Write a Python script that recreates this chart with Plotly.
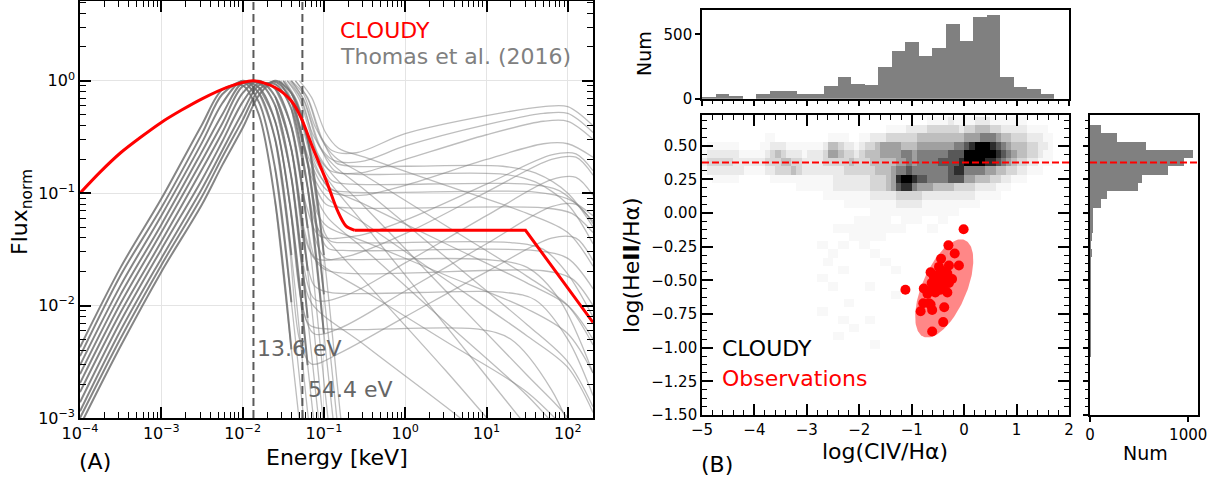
import numpy as np
import plotly.graph_objects as go

W, H = 1217, 482


def px(x):
    return x / W


def py(y):
    return 1 - y / H


# ---------------- Panel A: normalised SEDs (log10 E [keV], log10 flux) ----------------
cloudy_logE = [-4.0, -3.75, -3.5, -3.25, -3.0, -2.75, -2.5, -2.2, -1.87, -1.6, -1.4, -1.28, -1.14,
               -0.97, -0.83, -0.73, -0.62, 1.48, 2.31]
cloudy_logF = [-1.0, -0.81, -0.64, -0.50, -0.37, -0.26, -0.16, -0.06, 0.0, -0.06, -0.18, -0.33, -0.59,
               -0.89, -1.16, -1.29, -1.33, -1.33, -2.15]
cloudy_smooth_end = 16  # last index of the curved part; plateau + power law follow

# disc components of the Thomas et al. (2016) models
disk_logE = [-4.0, -3.5, -3.0, -2.5, -2.25, -2.0, -1.8, -1.6, -1.4, -1.2, -1.0, -0.8, -0.6]
disk_logF = [
    [-2.37, -1.66, -1.05, -0.39, -0.08, -0.04, -0.30, -1.07, -2.39, -3.70, None, None, None],
    [-2.45, -1.73, -1.13, -0.47, -0.12, -0.01, -0.19, -0.78, -1.97, -3.35, None, None, None],
    [-2.53, -1.82, -1.20, -0.55, -0.20, 0.00, -0.11, -0.52, -1.55, -2.95, -4.20, None, None],
    [-2.61, -1.90, -1.28, -0.63, -0.30, -0.02, -0.06, -0.36, -1.19, -2.53, -3.85, None, None],
    [-2.69, -1.98, -1.35, -0.71, -0.38, -0.05, -0.02, -0.22, -0.86, -2.11, -3.45, None, None],
    [-2.77, -2.06, -1.43, -0.79, -0.46, -0.11, 0.00, -0.14, -0.61, -1.69, -3.08, -4.30, None],
    [-2.86, -2.14, -1.50, -0.88, -0.54, -0.19, -0.02, -0.07, -0.41, -1.31, -2.67, -4.00, None],
    [-2.94, -2.22, -1.58, -0.96, -0.62, -0.28, -0.04, -0.03, -0.25, -0.95, -2.25, -3.60, None],
    [-3.00, -2.29, -1.64, -1.03, -0.68, -0.35, -0.08, -0.01, -0.18, -0.73, -1.90, -3.30, None],
    [-3.07, -2.36, -1.70, -1.10, -0.75, -0.42, -0.13, 0.00, -0.11, -0.52, -1.55, -2.95, -4.30],
]
disk_dense_floor = -1.3  # below this the disc curves spread out and show as single thin lines

# high-energy parts of the models: [log10 E, log10 flux] knots
thomas_tails = [
    # hard power laws
    [[-1.40, 0.0], [-1.25, -0.12], [-1.10, -0.42], [-0.90, -0.62], [-0.60, -0.64], [0.0, -0.47], [1.0, -0.31], [1.7, -0.23], [2.0, -0.23], [2.31, -0.40]],
    [[-1.45, 0.0], [-1.30, -0.14], [-1.12, -0.50], [-0.90, -0.70], [-0.55, -0.72], [0.0, -0.58], [1.0, -0.39], [1.7, -0.29], [2.0, -0.29], [2.31, -0.46]],
    [[-1.50, 0.0], [-1.35, -0.16], [-1.15, -0.58], [-0.92, -0.80], [-0.55, -0.82], [0.0, -0.70], [1.0, -0.48], [1.7, -0.36], [2.0, -0.36], [2.31, -0.52]],
    [[-1.55, 0.0], [-1.40, -0.18], [-1.18, -0.70], [-0.95, -0.98], [-0.55, -1.02], [0.0, -0.93], [1.0, -0.70], [1.7, -0.56], [2.0, -0.56], [2.31, -0.68]],
    # flat power laws
    [[-1.35, 0.0], [-1.20, -0.15], [-1.02, -0.52], [-0.85, -0.73], [-0.65, -0.76], [0.0, -0.76], [1.2, -0.76], [1.6, -0.82], [2.0, -1.00], [2.31, -1.30]],
    [[-1.40, 0.0], [-1.25, -0.16], [-1.05, -0.58], [-0.87, -0.80], [-0.65, -0.83], [1.2, -0.83], [1.6, -0.90], [2.0, -1.10], [2.31, -1.45]],
    [[-1.45, 0.0], [-1.30, -0.17], [-1.08, -0.66], [-0.90, -0.89], [-0.65, -0.92], [1.5, -0.92], [1.9, -0.98], [2.31, -1.25]],
    [[-1.50, 0.0], [-1.35, -0.18], [-1.12, -0.72], [-0.93, -0.96], [-0.68, -0.99], [1.6, -0.99], [2.0, -1.05], [2.31, -1.20]],
    [[-1.55, 0.0], [-1.40, -0.20], [-1.16, -0.84], [-0.97, -1.10], [-0.70, -1.13], [1.7, -1.13], [2.05, -1.18], [2.31, -1.35]],
    # soft power laws
    [[-1.30, 0.0], [-1.15, -0.15], [-0.98, -0.46], [-0.82, -0.60], [-0.5, -0.68], [0.5, -0.93], [1.5, -1.18], [2.0, -1.35], [2.31, -1.65]],
    [[-1.35, 0.0], [-1.20, -0.16], [-1.03, -0.52], [-0.86, -0.68], [-0.5, -0.84], [0.5, -1.29], [1.5, -1.74], [2.0, -2.00], [2.31, -2.35]],
    [[-1.40, 0.0], [-1.25, -0.17], [-1.06, -0.58], [-0.88, -0.75], [-0.5, -0.97], [0.5, -1.57], [1.5, -2.17], [2.0, -2.50], [2.31, -2.90]],
    [[-1.42, 0.0], [-1.27, -0.17], [-1.08, -0.64], [-0.90, -0.83], [-0.5, -1.12], [0.5, -1.87], [1.5, -2.62], [2.0, -3.00], [2.31, -3.40]],
    [[-1.48, 0.0], [-1.33, -0.18], [-1.11, -0.70], [-0.92, -0.91], [-0.5, -1.28], [0.5, -2.18], [1.5, -3.08], [1.95, -3.50]],
    [[-1.50, 0.0], [-1.35, -0.18], [-1.13, -0.74], [-0.93, -0.95], [-0.5, -1.10], [0.5, -1.45], [1.5, -1.80], [2.0, -2.00], [2.31, -2.30]],
    [[-1.53, 0.0], [-1.38, -0.19], [-1.15, -0.82], [-0.95, -1.05], [-0.5, -1.27], [0.5, -1.77], [1.5, -2.27], [2.0, -2.55], [2.31, -2.95]],
    # weaker power laws branching off the disc curves
    [[-1.4, -0.11], [-1.2, -0.52], [-1.06, -1.20], [-0.93, -1.42], [-0.7, -1.44], [1.3, -1.44], [1.7, -1.50], [2.0, -1.72], [2.31, -2.10]],
    [[-1.4, -0.18], [-1.2, -0.73], [-1.08, -1.30], [-0.95, -1.49], [-0.7, -1.51], [1.6, -1.51], [2.0, -1.58], [2.31, -1.85]],
    [[-1.4, -0.25], [-1.2, -0.95], [-1.10, -1.42], [-0.98, -1.58], [-0.7, -1.59], [1.0, -1.59], [1.5, -1.66], [1.9, -1.95], [2.31, -2.60]],
    [[-1.6, -0.07], [-1.4, -0.41], [-1.22, -1.20], [-1.10, -1.60], [-0.95, -1.69], [1.7, -1.69], [2.05, -1.76], [2.31, -2.00]],
    [[-1.6, -0.14], [-1.4, -0.61], [-1.25, -1.45], [-1.12, -1.82], [-0.95, -1.88], [1.2, -1.88], [1.6, -1.95], [2.0, -2.30], [2.31, -2.80]],
    [[-1.8, -0.06], [-1.6, -0.36], [-1.42, -1.10], [-1.30, -1.85], [-1.18, -2.17], [-0.9, -2.21], [0.9, -2.21], [1.3, -2.30], [1.8, -2.75], [2.2, -3.40]],
    [[-1.4, -0.11], [-1.2, -0.52], [-1.08, -1.05], [-0.95, -1.22], [-0.5, -1.50], [0.5, -2.15], [1.5, -2.80], [2.0, -3.20]],
    [[-1.4, -0.18], [-1.2, -0.73], [-1.08, -1.18], [-0.95, -1.30], [-0.5, -1.43], [0.5, -1.73], [1.5, -2.03], [2.0, -2.25], [2.31, -2.60]],
    [[-1.4, -0.25], [-1.2, -0.95], [-1.10, -1.28], [-0.98, -1.40], [-0.5, -1.78], [0.5, -2.58], [1.3, -3.25]],
    [[-1.6, -0.14], [-1.4, -0.61], [-1.25, -1.35], [-1.12, -1.58], [-0.5, -1.87], [0.5, -2.32], [1.5, -2.77], [2.1, -3.20]],
    [[-1.6, -0.22], [-1.4, -0.86], [-1.27, -1.65], [-1.15, -1.98], [-0.5, -2.35], [0.5, -2.90], [1.2, -3.30]],
    [[-1.8, -0.11], [-1.6, -0.52], [-1.42, -1.50], [-1.30, -2.30], [-1.15, -2.52], [-0.8, -2.42], [0.0, -2.10], [1.0, -1.70], [1.8, -1.40], [2.1, -1.40], [2.31, -1.60]],
    [[-1.8, -0.06], [-1.6, -0.36], [-1.42, -1.10], [-1.28, -1.95], [-1.12, -2.25], [-0.8, -2.20], [0.0, -1.87], [1.0, -1.45], [1.8, -1.12], [2.1, -1.10], [2.31, -1.27]],
    [[-1.6, -0.22], [-1.4, -0.86], [-1.25, -1.65], [-1.10, -1.95], [-0.7, -1.90], [0.0, -1.62], [1.0, -1.20], [1.8, -0.88], [2.1, -0.86], [2.31, -1.02]],
    [[-1.6, -0.14], [-1.4, -0.61], [-1.25, -1.30], [-1.10, -1.58], [-0.7, -1.56], [0.0, -1.36], [1.0, -0.99], [1.8, -0.70], [2.1, -0.68], [2.31, -0.84]],
    [[-1.6, -0.07], [-1.4, -0.41], [-1.22, -1.10], [-1.05, -1.38], [-0.6, -1.38], [0.0, -1.24], [1.0, -0.92], [1.8, -0.66], [2.1, -0.65], [2.31, -0.80]],
]

ionisation_edges_keV = [0.0136, 0.0544]
edge_labels = ["13.6 eV", "54.4 eV"]

E_ticks = [1e-4, 1e-3, 1e-2, 1e-1, 1e0, 1e1, 1e2]
E_ticktext = ["10<sup>\u22124</sup>", "10<sup>\u22123</sup>", "10<sup>\u22122</sup>", "10<sup>\u22121</sup>",
              "10<sup>0</sup>", "10<sup>1</sup>", "10<sup>2</sup>"]
F_ticks = [1e-3, 1e-2, 1e-1, 1e0]
F_ticktext = ["10<sup>\u22123</sup>", "10<sup>\u22122</sup>", "10<sup>\u22121</sup>", "10<sup>0</sup>"]

# ---------------- Panel B: line ratios ----------------
# CLOUDY grid density, rows from top (log HeII/Ha) downwards, columns in log CIV/Ha from -5 to 2
heat_x0, heat_dx = -5.0, 0.1
heat_ytop, heat_dy = 0.715, 0.0615
cloudy_density_rows = [
    "0000000000 0000000000 0000000000 0000000000 0001111211 1122211111 1100000000",
    "0000000000 0000000000 0000000000 0000011112 2223333332 3344433222 2211110000",
    "0000000000 0011000000 0000111100 1122233333 3444444444 5556665443 3322211000",
    "0111111000 0112221111 1112443221 2334555544 4555555566 7899987654 4433221000",
    "1222222111 1123432221 2223554332 3444555566 5666666777 9999998765 4433211000",
    "2333332222 2233344332 2223333343 3344444556 5666677778 9999887654 3322111000",
    "1222222211 1122333432 2222222333 3334445667 6666666788 6666554433 2211100000",
    "0011111000 0001111111 1111122222 2233345899 8776666777 5544433221 1100000000",
    "0000000000 0000000011 1111122222 2233345788 6555444433 3322221110 0000000000",
    "0000000000 0000000000 0001111111 1122222333 3322222222 2211111000 0000000000",
    "0000000000 0000000000 0000000111 1111111222 2211111111 1110000000 0000000000",
    "0000000000 0000000000 0000000000 0011111111 1111111110 0000000000 0000000000",
    "0000000000 0000000000 0000000001 1111110011 1100011000 0000000000 0000000000",
    "0000000000 0000000000 0000011111 1111111110 0001100000 0000000000 0000000000",
    "0000000000 0000000000 0000000011 1111100000 0000000000 0000000000 0000000000",
    "0000000000 0000000000 0011001100 1100000000 0000000000 0000000000 0000000000",
    "0000000000 0000000000 0000110000 0011000000 0000001000 0000000000 0000000000",
    "0000000000 0000000000 0001100000 0000110000 0000000000 0000000000 0000000000",
    "0000000000 0000000000 0000001100 0000001100 0000000000 0000000000 0000000000",
    "0000000000 0000000000 0011000000 0000000000 0000000000 0000000000 0000000000",
    "0000000000 0000000000 0000110000 0110000000 0000000000 0000000000 0000000000",
    "0000000000 0000000000 0000000000 0000001100 0000000000 0000000000 0000000000",
    "0000000000 0000000000 0000000110 0000000000 0000000000 0000000000 0000000000",
    "0000000000 0000000000 0011000000 0000000000 0000000000 0000000000 0000000000",
    "0000000000 0000000000 0000001100 0110000000 0000000000 0000000000 0000000000",
    "0000000000 0000000000 0000000011 0000000000 0000000000 0000000000 0000000000",
    "0000000000 0000000000 0000011000 0000000000 0000000000 0000000000 0000000000",
    "0000000000 0000000000 0000000000 0011000000 0000000000 0000000000 0000000000",
]

# marginal histograms of the CLOUDY grid
civ_bin0, civ_binw = -5.0, 0.2585
civ_counts = [10, 34, 18, 0, 34, 60, 60, 34, 34, 99, 169, 115, 107, 247, 372, 443,
              333, 396, 583, 450, 638, 654, 169, 91, 76, 36]
heii_bintop, heii_binw = 0.654, 0.0615
heii_counts = [108, 271, 569, 1044, 956, 790, 529, 488, 169, 108, 27, 34, 27, 17,
               4, 14, 3, 4, 10, 3, 10, 2, 3, 10, 2, 1, 1, 1]

heii_reference = 0.375

# observed line ratios
obs_civ = [-0.01, -0.30, -0.18, -0.44, -0.10, -0.29, -0.64, -0.42, -0.58, -0.32, -0.23, -0.45,
           -0.51, -0.29, -0.58, -0.77, -0.55, -0.32, -0.70, -1.12, -0.61, -0.45, -0.39, -0.50,
           -0.67, -0.78, -0.64, -0.83, -0.61, -0.38, -0.40, -0.61, -0.48, -0.36, -0.54, -0.62]
obs_heii = [-0.12, -0.24, -0.30, -0.34, -0.39, -0.39, -0.44, -0.43, -0.47, -0.45, -0.49, -0.51,
            -0.52, -0.52, -0.55, -0.56, -0.59, -0.59, -0.60, -0.57, -0.57, -0.57, -0.55, -0.46,
            -0.67, -0.67, -0.68, -0.73, -0.72, -0.70, -0.81, -0.88, -0.40, -0.48, -0.50, -0.52]
# extent of the observed region (centre and shape matrix of the ellipse)
obs_region_centre = [-0.38, -0.56]
obs_region_shape = [[0.3075, 0.1159], [0.1159, 0.1329]]

FONT = "DejaVu Sans"
GREY_THICK = "rgba(112,112,112,0.85)"
GREY_THIN = "rgba(128,128,128,0.52)"

fig = go.Figure()


def sed_line(pairs, color, width):
    fig.add_trace(go.Scatter(
        x=[10 ** e for e, _ in pairs], y=[10 ** f for _, f in pairs],
        mode="lines", line=dict(color=color, width=width, shape="spline", smoothing=0.9),
        xaxis="x", yaxis="y", hoverinfo="skip"))


# ---- Panel A traces ----
for tail in thomas_tails:
    sed_line(tail, GREY_THIN, 1.3)

for row in disk_logF:
    pts = [(e, f) for e, f in zip(disk_logE, row) if f is not None]
    j = next(i for i, (_, f) in enumerate(pts) if i > 5 and f < disk_dense_floor)
    sed_line(pts[j - 1:], GREY_THIN, 1.3)
    sed_line(pts[:j + 1], GREY_THICK, 2)

for edge in ionisation_edges_keV:
    fig.add_trace(go.Scatter(
        x=[edge, edge], y=[1e-3, 10 ** 0.71], mode="lines",
        line=dict(color="#5a5a5a", width=2, dash="8px,4px"),
        xaxis="x", yaxis="y", hoverinfo="skip"))

k = cloudy_smooth_end
fig.add_trace(go.Scatter(
    x=[10 ** e for e in cloudy_logE[:k + 1]], y=[10 ** f for f in cloudy_logF[:k + 1]],
    mode="lines", line=dict(color="red", width=3, shape="spline", smoothing=0.8),
    xaxis="x", yaxis="y", hoverinfo="skip"))
fig.add_trace(go.Scatter(
    x=[10 ** e for e in cloudy_logE[k:]], y=[10 ** f for f in cloudy_logF[k:]],
    mode="lines", line=dict(color="red", width=3),
    xaxis="x", yaxis="y", hoverinfo="skip"))

# ---- Panel B traces ----
density = np.array([[int(c) for c in r.replace(" ", "")] for r in cloudy_density_rows], dtype=float)
nrow, ncol = density.shape
x_edges = heat_x0 + heat_dx * np.arange(ncol + 1)
y_edges = heat_ytop - heat_dy * np.arange(nrow + 1)
greys = [[0.0, "rgb(255,255,255)"], [1 / 9, "rgb(248,248,248)"], [2 / 9, "rgb(234,234,234)"],
         [3 / 9, "rgb(214,214,214)"], [4 / 9, "rgb(190,190,190)"], [5 / 9, "rgb(160,160,160)"],
         [6 / 9, "rgb(126,126,126)"], [7 / 9, "rgb(88,88,88)"], [8 / 9, "rgb(45,45,45)"],
         [1.0, "rgb(0,0,0)"]]
fig.add_trace(go.Heatmap(
    z=density[::-1], x=x_edges, y=y_edges[::-1], zmin=0, zmax=9, colorscale=greys,
    showscale=False, xaxis="x2", yaxis="y2", hoverinfo="skip"))

vals, vecs = np.linalg.eigh(np.array(obs_region_shape))
t = np.linspace(0, 2 * np.pi, 160)
ell = vecs @ (np.sqrt(vals)[:, None] * np.vstack([np.cos(t), np.sin(t)]))
fig.add_trace(go.Scatter(
    x=obs_region_centre[0] + ell[0], y=obs_region_centre[1] + ell[1],
    mode="lines", fill="toself", fillcolor="rgba(255,0,0,0.47)", line=dict(width=0),
    xaxis="x2", yaxis="y2", hoverinfo="skip"))

fig.add_trace(go.Scatter(
    x=obs_civ, y=obs_heii, mode="markers", marker=dict(color="red", size=10, line=dict(width=0)),
    xaxis="x2", yaxis="y2", hoverinfo="skip"))

civ_centres = [civ_bin0 + civ_binw * (i + 0.5) for i in range(len(civ_counts))]
fig.add_trace(go.Bar(
    x=civ_centres, y=civ_counts, width=civ_binw, marker=dict(color="#808080", line=dict(width=0)),
    xaxis="x3", yaxis="y3", hoverinfo="skip"))

heii_centres = [heii_bintop - heii_binw * (i + 0.5) for i in range(len(heii_counts))]
fig.add_trace(go.Bar(
    y=heii_centres, x=heii_counts, width=heii_binw, orientation="h",
    marker=dict(color="#808080", line=dict(width=0)),
    xaxis="x4", yaxis="y4", hoverinfo="skip"))

# ---- axes ----
frame = dict(showline=True, linecolor="black", linewidth=1.6, zeroline=False, showgrid=False,
             automargin=False, tickcolor="black", tickwidth=1.5,
             tickfont=dict(family=FONT, size=15, color="black"))

minor_E = [m * 10.0 ** n for n in range(-4, 3) for m in range(2, 10) if m * 10.0 ** n <= 205]
minor_F = [m * 10.0 ** n for n in range(-3, 1) for m in range(2, 10) if m * 10.0 ** n <= 5.1]

left_x = [px(80), px(593)]
left_y = [py(418), py(1)]
main_x = [px(702), px(1069)]
main_y = [py(415), py(115)]
top_y = [py(98.7), py(10)]
side_x = [px(1090), px(1198)]

fig.update_layout(
    width=W, height=H, margin=dict(l=0, r=0, t=0, b=0, autoexpand=False),
    paper_bgcolor="white", plot_bgcolor="white", showlegend=False, bargap=0,
    font=dict(family=FONT, color="black"),
    xaxis=dict(frame, type="log", range=[-4, 2.31], domain=left_x, anchor="y",
               tickvals=E_ticks, ticktext=E_ticktext, ticks="inside", ticklen=11, mirror="allticks",
               showgrid=True, gridcolor="#e4e4e4", gridwidth=1,
               tickfont=dict(family=FONT, size=16, color="black"),
               minor=dict(tickvals=minor_E, ticks="inside", ticklen=6, tickcolor="black",
                          tickwidth=1.2, showgrid=False)),
    yaxis=dict(frame, type="log", range=[-3, 0.71], domain=left_y, anchor="x",
               tickvals=F_ticks, ticktext=F_ticktext, ticks="inside", ticklen=11, mirror="allticks",
               showgrid=True, gridcolor="#e4e4e4", gridwidth=1,
               tickfont=dict(family=FONT, size=16, color="black"),
               minor=dict(tickvals=minor_F, ticks="inside", ticklen=6, tickcolor="black",
                          tickwidth=1.2, showgrid=False)),
    xaxis2=dict(frame, range=[-5, 2], domain=main_x, anchor="y2", tick0=0, dtick=1,
                ticks="inside", ticklen=11, mirror="allticks",
                minor=dict(dtick=0.2, ticks="inside", ticklen=5, tickcolor="black", tickwidth=1.2)),
    yaxis2=dict(frame, range=[-1.5, 0.728], domain=main_y, anchor="x2", tick0=0, dtick=0.25,
                tickformat=".2f", ticks="inside", ticklen=11, mirror="allticks",
                minor=dict(dtick=0.0625, ticks="inside", ticklen=5, tickcolor="black", tickwidth=1.2)),
    xaxis3=dict(frame, range=[-5, 2], domain=main_x, anchor="y3", tick0=0, dtick=1,
                showticklabels=False, ticks="outside", ticklen=5, mirror=True,
                minor=dict(dtick=0.2, ticks="outside", ticklen=3, tickcolor="black", tickwidth=1.2)),
    yaxis3=dict(frame, range=[0, 690], domain=top_y, anchor="x3", tickvals=[0, 500],
                ticks="outside", ticklen=5, mirror=True),
    xaxis4=dict(frame, range=[0, 1100], domain=side_x, anchor="y4", tickvals=[0, 1000],
                ticks="outside", ticklen=5, mirror=True),
    yaxis4=dict(frame, range=[-1.5, 0.728], domain=main_y, anchor="x4", tick0=0, dtick=0.25,
                showticklabels=False, ticks="outside", ticklen=5, mirror=True,
                minor=dict(dtick=0.0625, ticks="outside", ticklen=3, tickcolor="black", tickwidth=1.2)),
)

for xr in ["x2 domain", "x4 domain"]:
    fig.add_shape(type="line", xref=xr, yref=xr.split()[0].replace("x", "y"),
                  x0=0, x1=1, y0=heii_reference, y1=heii_reference,
                  line=dict(color="red", width=2, dash="7px,3px"))


def label(text, x, y, size=22, color="black", xanchor="center", angle=0):
    fig.add_annotation(text=text, x=px(x), y=py(y), xref="paper", yref="paper",
                       xanchor=xanchor, yanchor="middle", showarrow=False, textangle=angle,
                       font=dict(family=FONT, size=size, color=color))


label("CLOUDY", 338, 30, color="red", xanchor="left")
label("Thomas et al. (2016)", 338, 56, color="#808080", xanchor="left")
label(edge_labels[0], 255, 348, color="#666666", xanchor="left")
label(edge_labels[1], 306, 389, color="#666666", xanchor="left")
label("Energy [keV]", 336.5, 457)
label("Flux<sub>norm</sub>", 21, 212, angle=-90)
label("(A)", 95, 461)
label("CLOUDY", 720, 348, xanchor="left")
label("Observations", 720, 378, color="red", xanchor="left")
label("log(CIV/H\u03b1)", 885, 451)
label("log(He<b>II</b>/H\u03b1)", 631, 265, angle=-90)
label("(B)", 717, 464)
label("Num", 644, 54, size=19, angle=-90)
label("Num", 1145, 453, size=19)

fig.write_html("out.html")
